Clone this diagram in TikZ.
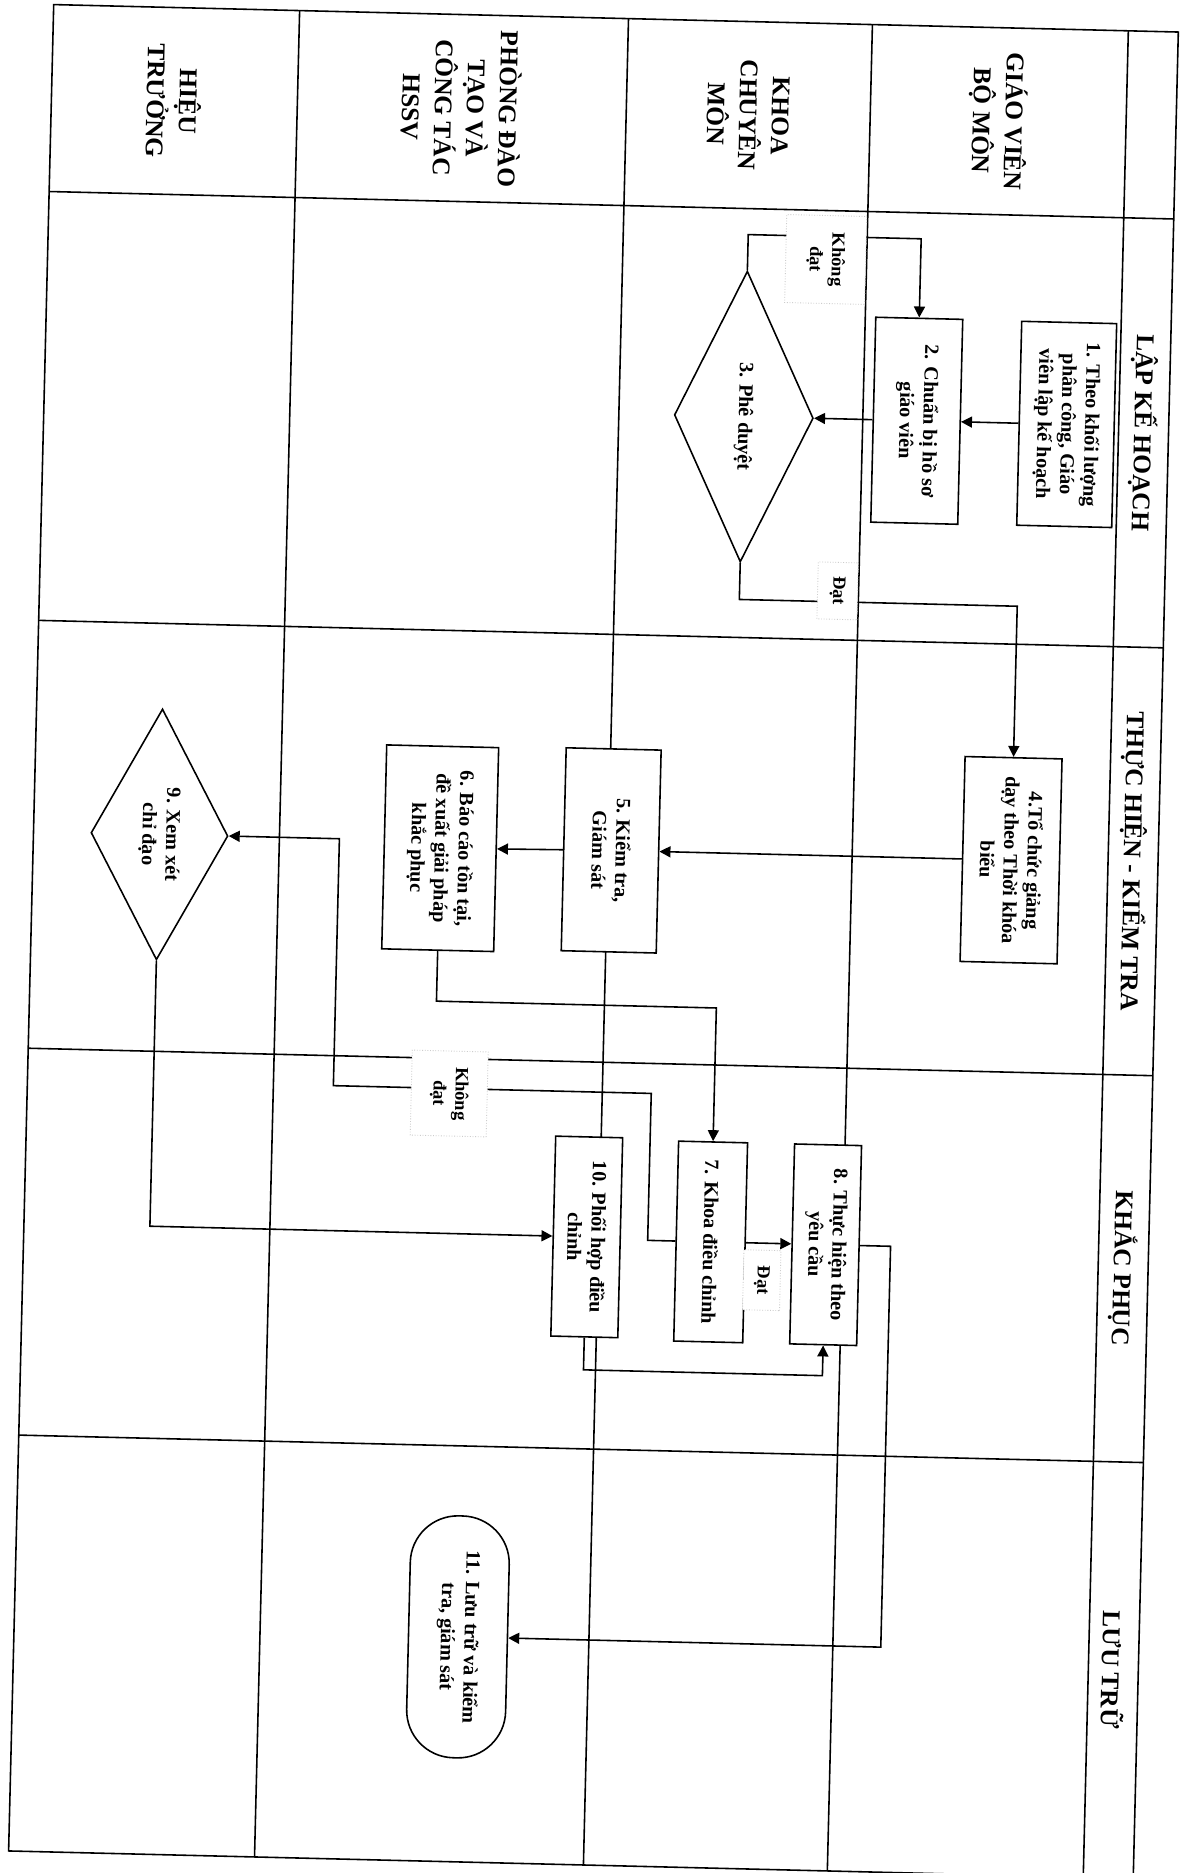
\documentclass[tikz,border=0pt]{standalone}
\usepackage{fontspec}
\setmainfont{Liberation Serif}
\usetikzlibrary{arrows.meta,shapes.geometric}
\tikzset{
  lanehead/.style={font=\bfseries\fontsize{14.5}{18.5}\selectfont,align=center},
  phasehead/.style={font=\bfseries\fontsize{14.5}{17}\selectfont},
  stepbox/.style={draw,fill=white,line width=0.9pt,align=center,inner sep=2pt,font=\bfseries\fontsize{11.5}{13.5}\selectfont},
  decide/.style={diamond,aspect=2,draw,fill=white,line width=0.9pt,align=center,inner sep=0pt,font=\bfseries\fontsize{11.5}{13.5}\selectfont},
  endbox/.style={stepbox,rounded corners=0.95cm},
  flowtag/.style={fill=white,draw=black!20,densely dotted,line width=0.5pt,align=center,inner sep=1pt,font=\bfseries\fontsize{10.5}{12.5}\selectfont},
  laneline/.style={line width=0.9pt},
  arr/.style={-{Triangle[length=2.2mm,width=2.2mm]},line width=0.9pt}
}
\begin{document}
\begin{tikzpicture}[x=0.02cm,y=0.02cm]
\useasboundingbox (0,0) rectangle (1186,-1873);
\fill[white] (0,0) rectangle (1186,-1873);
\begin{scope}[rotate around={-1.4:(594,-940)}]
\begin{scope}[rotate=-90,transform shape]
\draw[laneline] (18,31) rectangle (1865,1156);
\draw[laneline] (18,277)--(1865,277); \draw[laneline] (18,606)--(1865,606); \draw[laneline] (18,850)--(1865,850); \draw[laneline] (18,1106)--(1865,1106);
\draw[laneline] (205,31)--(205,1156); \draw[laneline] (634,31)--(634,1156); \draw[laneline] (1062,31)--(1062,1156); \draw[laneline] (1449,31)--(1449,1156);
\node[lanehead] (hHieu) at (111.5,154) {HIỆU\\TRƯỞNG};
\node[lanehead] (hPhong) at (111.5,441.5) {PHÒNG ĐÀO\\TẠO VÀ\\CÔNG TÁC\\HSSV};
\node[lanehead] (hKhoa) at (111.5,728) {KHOA\\CHUYÊN\\MÔN};
\node[lanehead] (hGiao) at (111.5,978) {GIÁO VIÊN\\BỘ MÔN};
\node[phasehead] (pLap) at (419.5,1131) {LẬP KẾ HOẠCH};
\node[phasehead] (pThuc) at (848,1131) {THỰC HIỆN - KIỂM TRA};
\node[phasehead] (pKhac) at (1255.5,1131) {KHẮC PHỤC};
\node[phasehead] (pLuu) at (1657,1131) {LƯU TRỮ};
\node[stepbox,minimum width=4.08cm,minimum height=1.9cm] (b1) at (413,1054) {1. Theo khối lượng\\phân công, Giáo\\viên lập kế hoạch};
\node[stepbox,minimum width=4.1cm,minimum height=1.74cm] (b2) at (413,904) {2. Chuẩn bị hồ sơ\\giáo viên};
\node[decide,minimum width=5.82cm,minimum height=2.78cm] (d3) at (413,731) {3. Phê duyệt};
\node[stepbox,minimum width=4.1cm,minimum height=1.94cm] (b4) at (850,1009) {4.Tổ chức giảng\\dạy theo Thời khóa\\biểu};
\node[stepbox,minimum width=4.06cm,minimum height=1.9cm] (b5) at (850,609) {5. Kiểm tra,\\Giám sát};
\node[stepbox,minimum width=4.08cm,minimum height=2.24cm] (b6) at (852,438) {6. Báo cáo tồn tại,\\đề xuất giải pháp\\khắc phục};
\node[decide,minimum width=5.02cm,minimum height=2.74cm] (d9) at (845,157) {9. Xem xét\\chỉ đạo};
\node[stepbox,minimum width=4cm,minimum height=1.38cm] (b7) at (1239,718) {7. Khoa điều chỉnh};
\node[stepbox,minimum width=4cm,minimum height=1.34cm] (b8) at (1239,833) {8. Thực hiện theo\\yêu cầu};
\node[stepbox,minimum width=4cm,minimum height=1.34cm] (b10) at (1237,594) {10. Phối hợp điều\\chỉnh};
\node[endbox,minimum width=4.84cm,minimum height=1.98cm] (t11) at (1640,475) {11. Lưu trữ và kiểm\\tra, giám sát};
\coordinate (k3) at (231,731); \coordinate (p3) at (596,731); \coordinate (p6) at (1005,438);
\coordinate (k7) at (1092,655); \coordinate (k9) at (1092,337); \coordinate (p10) at (1370,594); \coordinate (p8) at (1640,898);
\draw[arr] (b1) -- (b2); \draw[arr] (b2) -- (d3);
\draw[arr] (d3.west) -- (k3) |- (b2.west);
\draw[arr] (d3.east) -- (p3) |- (b4.west);
\draw[arr] (b4) -- (b5); \draw[arr] (b5) -- (b6);
\draw[arr] (b6.east) -- (p6) |- (b7.west);
\draw[arr] (b7) -- (b8);
\draw[arr] (b7.south) |- (k7) -- (k9) -| (d9.north);
\draw[arr] (d9.east) -| (b10.south);
\draw[arr] (b10.east) -- (p10) |- (b8.east);
\draw[arr] (b8.north) |- (p8) -- (t11);
\node[flowtag,minimum width=1.76cm,minimum height=1.6cm] (l3n) at (254,809) {Không\\đạt};
\node[flowtag,minimum width=1.14cm,minimum height=0.8cm] (l3y) at (585,829) {Đạt};
\node[flowtag,minimum width=1.2cm,minimum height=0.74cm] (l7y) at (1276,770) {Đạt};
\node[flowtag,minimum width=1.7cm,minimum height=1.52cm] (l7n) at (1097,453) {Không\\đạt};
\end{scope}
\end{scope}
\end{tikzpicture}
\end{document}
